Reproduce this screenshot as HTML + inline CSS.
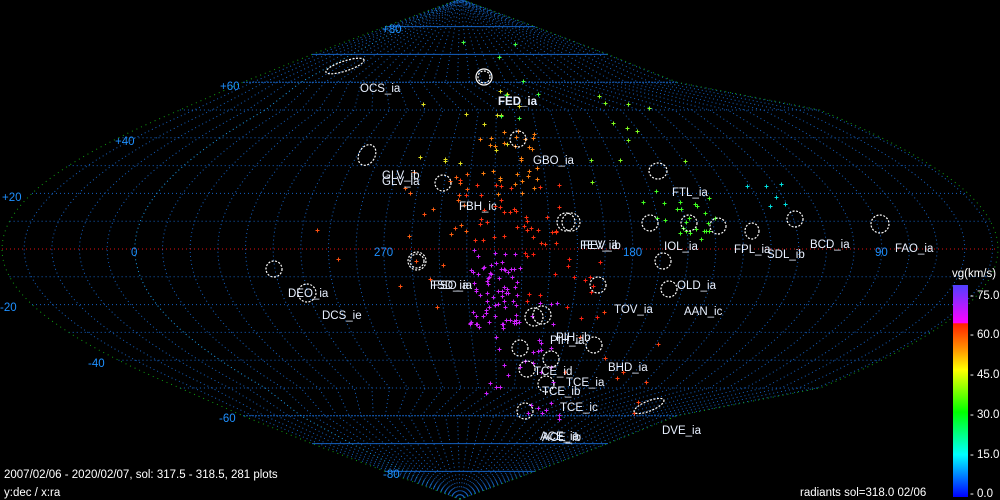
<!DOCTYPE html>
<html><head><meta charset="utf-8"><style>
html,body{margin:0;padding:0;background:#000;}
#w{position:relative;width:1000px;height:500px;overflow:hidden;background:#000;font-family:"Liberation Sans",sans-serif;}
svg{position:absolute;left:0;top:0;}
.t{font-size:11.5px;fill:#e8f0ff;}
.d{font-size:11.5px;fill:#1e90ff;}
.c{font-size:11.5px;fill:#fff;}
</style></head><body><div id="w">
<svg id="s" width="1000" height="500" xmlns="http://www.w3.org/2000/svg">
<g id="grid"></g>
<g id="dots"></g>
<g fill="none" stroke="#fff" stroke-width="1.2" stroke-dasharray="2 1.5">
<ellipse cx="345" cy="66" rx="20" ry="5" transform="rotate(-18 345 66)"/>
<circle cx="484" cy="77" r="8" stroke-dasharray="none"/><circle cx="484" cy="77" r="6"/>
<ellipse cx="367" cy="155" rx="8" ry="11" transform="rotate(30 367 155)"/>
<circle cx="443" cy="183" r="8"/><circle cx="518" cy="139" r="8"/>
<ellipse cx="658" cy="171" rx="9" ry="8"/>
<circle cx="566" cy="222" r="9"/><circle cx="571" cy="222" r="9"/>
<circle cx="650" cy="223" r="8"/><circle cx="689" cy="223" r="8"/><circle cx="718" cy="226" r="8"/>
<ellipse cx="752" cy="231" rx="7" ry="8"/><circle cx="795" cy="219" r="8"/><circle cx="880" cy="224" r="9"/>
<circle cx="274" cy="269" r="8"/><circle cx="307" cy="293" r="9"/><circle cx="417" cy="261" r="9"/><circle cx="417" cy="261" r="7"/>
<circle cx="663" cy="261" r="8"/><circle cx="598" cy="285" r="8"/><circle cx="669" cy="289" r="8"/>
<circle cx="534" cy="317" r="9"/><circle cx="542" cy="315" r="9"/>
<circle cx="520" cy="348" r="8"/><circle cx="551" cy="359" r="8"/><circle cx="594" cy="345" r="8"/>
<circle cx="527" cy="369" r="8"/><circle cx="546" cy="384" r="8"/><circle cx="525" cy="411" r="8"/>
<ellipse cx="649" cy="406" rx="16" ry="5" transform="rotate(-22 649 406)"/>
</g>
<text class="d" x="382" y="33">+80</text><text class="d" x="220" y="90">+60</text>
<text class="d" x="115" y="145">+40</text><text class="d" x="2" y="201">+20</text>
<text class="d" x="131" y="256">0</text><text class="d" x="0" y="311">-20</text>
<text class="d" x="88" y="367">-40</text><text class="d" x="219" y="422">-60</text>
<text class="d" x="383" y="478">-80</text>
<text class="d" x="374" y="256">270</text><text class="d" x="623" y="256">180</text><text class="d" x="875" y="256">90</text>
<text class="t" x="360" y="92">OCS_ia</text>
<text class="t" x="498" y="105" style="font-weight:bold">FED_ia</text>
<text class="t" x="533" y="164">GBO_ia</text>
<text class="t" x="382" y="179">GLV_ib</text><text class="t" x="382" y="185">GLV_ia</text>
<text class="t" x="672" y="196">FTL_ia</text>
<text class="t" x="459" y="210">FBH_ic</text>
<text class="t" x="580" y="249">FEV_ia</text><text class="t" x="583" y="249">FEV_ib</text>
<text class="t" x="664" y="250">IOL_ia</text>
<text class="t" x="734" y="253">FPL_ia</text><text class="t" x="767" y="258">SDL_ib</text>
<text class="t" x="810" y="248">BCD_ia</text><text class="t" x="895" y="252">FAO_ia</text>
<text class="t" x="288" y="297">DEO_ia</text><text class="t" x="322" y="319">DCS_ie</text>
<text class="t" x="430" y="289">FSD_ia</text><text class="t" x="433" y="289">FSO_ia</text>
<text class="t" x="677" y="289">OLD_ia</text>
<text class="t" x="614" y="313">TOV_ia</text><text class="t" x="684" y="315">AAN_ic</text>
<text class="t" x="550" y="344">PIH_ia</text><text class="t" x="556" y="341">PIH_ib</text>
<text class="t" x="608" y="371">BHD_ia</text>
<text class="t" x="534" y="375">TCE_id</text><text class="t" x="566" y="386">TCE_ia</text>
<text class="t" x="542" y="395">TCE_ib</text><text class="t" x="560" y="411">TCE_ic</text>
<text class="t" x="662" y="434">DVE_ia</text>
<text class="t" x="540" y="440">ACE_ia</text><text class="t" x="542" y="441">ACE_ib</text>
<defs><linearGradient id="g" x1="0" y1="0" x2="0" y2="1">
<stop offset="0" stop-color="#5040ff"/><stop offset="0.18" stop-color="#ff00ff"/>
<stop offset="0.181" stop-color="#ff2000"/><stop offset="0.3" stop-color="#ff9000"/>
<stop offset="0.4" stop-color="#ffff00"/><stop offset="0.6" stop-color="#00ff00"/>
<stop offset="0.8" stop-color="#00ffff"/><stop offset="1" stop-color="#0000ff"/>
</linearGradient></defs>
<rect x="953" y="285" width="15" height="212" fill="url(#g)"/>
<text class="c" x="952" y="277">vg(km/s)</text>
<text class="c" x="970" y="299">- 75.0</text><text class="c" x="970" y="338">- 60.0</text>
<text class="c" x="970" y="378">- 45.0</text><text class="c" x="970" y="418">- 30.0</text>
<text class="c" x="970" y="458">- 15.0</text><text class="c" x="970" y="497">-  0.0</text>
<text class="c" x="4" y="478">2007/02/06 - 2020/02/07,  sol: 317.5 - 318.5, 281 plots</text>
<text class="c" x="4" y="496">y:dec / x:ra</text>
<text class="c" x="800" y="496">radiants sol=318.0 02/06</text>
</svg>
<script>
(function(){
var NS="http://www.w3.org/2000/svg",cy=249,k=2.78,ra0=228;
var g=document.getElementById("grid"),D=document.getElementById("dots");
function CH(dec){var a=Math.abs(dec);
 var c50=[500,498*Math.cos(50*Math.PI/180)];
 var tab=[[50,c50[0],c50[1]],[60,460,217],[70,460,148],[80,460,75],[90,460,0]];
 if(a<=50)return [500,498*Math.cos(a*Math.PI/180)];
 for(var i=0;i<4;i++){if(a<=tab[i+1][0]){var t=(a-tab[i][0])/10;return [tab[i][1]+t*(tab[i+1][1]-tab[i][1]),tab[i][2]+t*(tab[i+1][2]-tab[i][2])];}}
 return [460,0];}
function P(ra,dec){var d=((ra0-ra)%360+540)%360-180;var ch=CH(dec);return [ch[0]+d/180*ch[1],cy-dec*k];}
function line(pts,col,da){var p=document.createElementNS(NS,"polyline");p.setAttribute("points",pts.map(function(q){return q[0].toFixed(1)+","+q[1].toFixed(1)}).join(" "));p.setAttribute("fill","none");p.setAttribute("stroke",col);p.setAttribute("stroke-width","1");p.setAttribute("stroke-dasharray",da||"1 3");g.appendChild(p);}
for(var dec=-80;dec<=80;dec+=10){if(dec==0)continue;var ch=CH(dec);var a=Math.abs(dec);line([[ch[0]-ch[1],cy-dec*k],[ch[0]+ch[1],cy-dec*k]],"#1460c0",a>=70?"none":(a==60?"2 1":"1 3"));}
for(var ra=0;ra<360;ra+=10){var pts=[];for(var d=-90;d<=90;d+=2)pts.push(P(ra,d));line(pts,ra==0?"#1aa0f0":"#1460c0");}
var L=[],R=[];for(var d=-90;d<=90;d+=2){var ch=CH(d);L.push([ch[0]-ch[1],cy-d*k]);R.push([ch[0]+ch[1],cy-d*k]);}
line(L,"#10a010","1 4");line(R,"#10a010","1 4");
line([[2,cy],[998,cy]],"#e01010","1 3");
var s=7;function r(){s=(s*16807)%2147483647;return s/2147483647;}
function dot(x,y,col){var p=document.createElementNS(NS,"path");p.setAttribute("d","M"+(x-2)+" "+y+"h4M"+x+" "+(y-2)+"v4");p.setAttribute("stroke",col);p.setAttribute("stroke-width","1");D.appendChild(p);}
var cl=[[470,520,250,330,70,"#d020ff"],[480,560,300,420,40,"#d020ff"],[460,560,180,245,40,"#ff3010"],[480,540,130,200,30,"#ff8010"],[400,470,170,240,15,"#ff6010"],[520,620,250,320,18,"#ff2010"],[420,520,90,170,14,"#e0e020"],[640,720,190,240,25,"#40ff20"],[580,700,90,200,12,"#80ff20"],[740,800,180,210,6,"#00e0e0"],[300,460,190,320,10,"#ff5010"],[420,560,40,120,8,"#40ff40"],[560,660,310,420,10,"#ff4010"]];
cl.forEach(function(c){for(var i=0;i<c[4];i++){var x=c[0]+r()*(c[1]-c[0]),y=c[2]+r()*(c[3]-c[2]);dot(Math.round(x)+.5,Math.round(y)+.5,c[5]);}});
})();
</script>
</div></body></html>
